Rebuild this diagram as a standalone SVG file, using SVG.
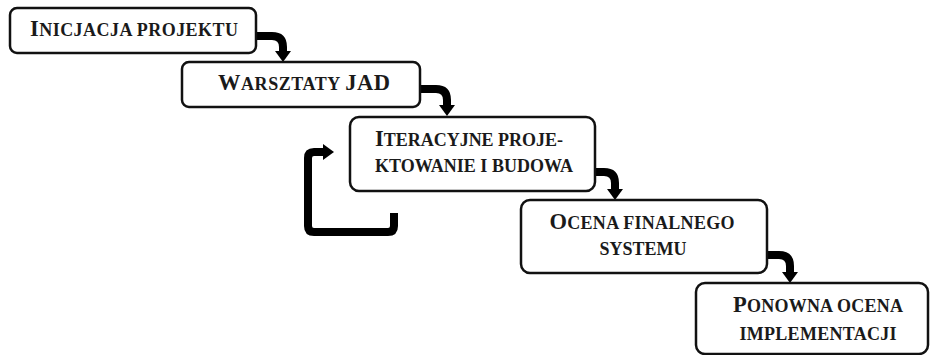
<svg xmlns="http://www.w3.org/2000/svg" width="930" height="355" viewBox="0 0 930 355">
<style>
.box{fill:#fff;stroke:#111;stroke-width:2.5}
.t{font-family:"Liberation Serif","Times New Roman",serif;font-weight:bold;font-size:18px;fill:#1a1a1a;text-anchor:middle}
.C{font-size:22.5px}
.c{fill:none;stroke:#000;stroke-width:8;stroke-linejoin:round}
</style>
<rect width="930" height="355" fill="#fff"/>
<g id="connectors">
<path class="c" d="M256,36 H272 Q283,36 283,47 V52"/>
<path d="M275,51 L291,51 L283,62 Z"/>
<path class="c" d="M419,89 H436 Q447,89 447,100 V106"/>
<path d="M439,105 L455,105 L447,116 Z"/>
<path class="c" d="M594,172 H604 Q615,172 615,183 V190"/>
<path d="M607,189 L623,189 L615,200 Z"/>
<path class="c" d="M766,255 H779 Q790,255 790,266 V273"/>
<path d="M782,272 L798,272 L790,283 Z"/>
<path class="c" d="M394,213 V226 Q394,232 388,232 H314 Q308,232 308,226 V158 Q308,152 314,152 H324"/>
<path d="M323,144 L334,152 L323,160 Z"/>
</g>
<g id="n1"><rect class="box" x="10" y="8" width="246" height="45" rx="7"/><text class="t" x="134" y="36" textLength="208" lengthAdjust="spacing"><tspan class="C">I</tspan>NICJACJA PROJEKTU</text></g>
<g id="n2"><rect class="box" x="182" y="62" width="238" height="45" rx="7"/><text class="t" x="304" y="90" textLength="172" lengthAdjust="spacing"><tspan class="C">W</tspan>ARSZTATY <tspan class="C">JAD</tspan></text></g>
<g id="n3"><rect class="box" x="350" y="117" width="245" height="74" rx="9"/><text class="t" x="469" y="146" textLength="188" lengthAdjust="spacing"><tspan class="C">I</tspan>TERACYJNE PROJE-</text><text class="t" x="474" y="172" textLength="198" lengthAdjust="spacing">KTOWANIE I BUDOWA</text></g>
<g id="n4"><rect class="box" x="521" y="200" width="246" height="73" rx="9"/><text class="t" x="642" y="229" textLength="185" lengthAdjust="spacing"><tspan class="C">O</tspan>CENA FINALNEGO</text><text class="t" x="643" y="255" textLength="87" lengthAdjust="spacing">SYSTEMU</text></g>
<g id="n5"><rect class="box" x="696" y="283" width="232" height="71" rx="9"/><text class="t" x="818" y="312" textLength="170" lengthAdjust="spacing"><tspan class="C">P</tspan>ONOWNA OCENA</text><text class="t" x="818" y="340" textLength="157" lengthAdjust="spacing">IMPLEMENTACJI</text></g>
</svg>
